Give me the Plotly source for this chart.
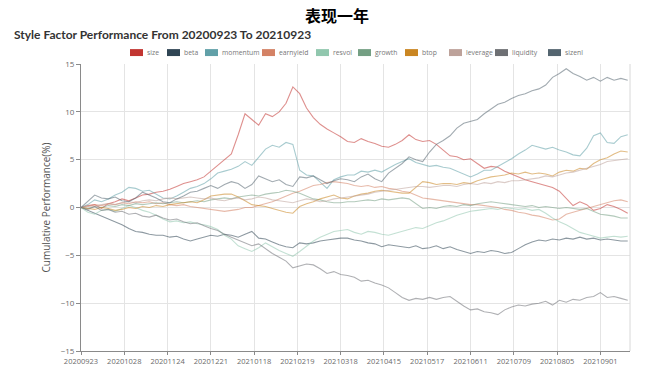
import plotly.graph_objects as go

# ---------------- data ----------------
SERIES_NAMES = ["size", "beta", "momentum", "earnyield", "resvol",
                "growth", "btop", "leverage", "liquidity", "sizenl"]
COLORS = ["#c23531", "#2f4554", "#61a0a8", "#d48265", "#91c7ae",
          "#749f83", "#ca8622", "#bda29a", "#6e7074", "#546570"]

TICK_LABELS = ["20200923", "20201028", "20201124", "20201221", "20210118",
               "20210219", "20210318", "20210415", "20210517", "20210611",
               "20210709", "20210805", "20210901"]
TICK_EVERY = 19          # trading days between labelled dates
N_DAYS = 241             # trading days on the axis
STEP = 3                 # one sampled value every 3 trading days

size = [0.0, 0.2, 0.3, -0.1, 0.4, 0.6, 0.9, 0.7, 1.0, 1.3,
        1.4, 1.6, 1.7, 1.9, 2.2, 2.5, 2.7, 2.9, 3.2, 3.8,
        4.5, 5.0, 5.6, 7.6, 9.8, 9.2, 8.6, 9.8, 9.5, 10.0,
        10.9, 12.6, 11.9, 10.4, 9.4, 8.7, 8.2, 7.8, 7.4, 6.9,
        6.8, 7.2, 6.9, 6.7, 6.4, 6.3, 6.6, 7.0, 7.6, 7.1,
        6.9, 7.0, 6.6, 6.0, 5.4, 5.3, 5.0, 5.1, 4.6, 4.1,
        4.3, 4.2, 3.8, 3.5, 3.2, 2.9, 2.7, 2.5, 2.3, 2.1,
        1.7, 0.9, 0.2, 0.6, 0.3, -0.3, -0.1, 0.3, 0.1, -0.2, -0.6]
beta = [0.0, -0.3, -0.6, -0.9, -1.2, -1.5, -1.8, -2.2, -2.5, -2.6,
        -2.8, -2.9, -2.9, -3.1, -3.0, -3.3, -3.5, -3.3, -3.1, -2.9,
        -3.0, -2.8, -2.9, -3.1, -2.8, -2.5, -3.2, -3.3, -3.6, -3.9,
        -4.1, -4.2, -3.7, -3.8, -3.7, -3.5, -3.4, -3.3, -3.2, -3.2,
        -3.4, -3.5, -3.7, -3.8, -4.1, -3.9, -4.0, -4.1, -4.2, -4.0,
        -4.3, -4.2, -4.0, -4.3, -4.1, -4.4, -4.6, -4.8, -4.6, -4.7,
        -4.5, -4.6, -4.8, -4.7, -4.3, -3.9, -3.6, -3.4, -3.5, -3.3,
        -3.4, -3.2, -3.3, -3.1, -3.3, -3.2, -3.4, -3.3, -3.4, -3.5, -3.5]
momentum = [0.0, 0.3, 0.8, 0.6, 0.9, 1.3, 1.6, 2.1, 2.0, 1.7,
            1.8, 1.4, 1.0, 0.9, 1.2, 1.6, 2.0, 2.2, 2.5, 3.0,
            3.6, 3.8, 4.0, 4.3, 4.8, 4.4, 5.2, 6.1, 6.5, 6.3,
            6.8, 6.6, 3.9, 3.4, 3.3, 2.6, 2.0, 2.9, 3.2, 3.4,
            3.4, 3.8, 3.7, 3.9, 3.7, 4.1, 4.5, 4.8, 5.1, 4.7,
            4.5, 4.3, 4.4, 4.2, 4.1, 3.8, 3.5, 3.2, 3.5, 3.9,
            3.9, 4.3, 4.7, 5.1, 5.6, 6.0, 6.5, 6.3, 6.1, 6.3,
            6.0, 5.8, 5.5, 5.4, 6.2, 7.5, 7.8, 6.8, 6.7, 7.4, 7.6]
earnyield = [0.0, 0.1, 0.3, 0.2, 0.4, 0.3, 0.5, 0.4, 0.6, 0.5,
             0.6, 0.4, 0.5, 0.3, 0.2, 0.3, 0.1, 0.0, -0.1, -0.2,
             -0.3, -0.4, -0.3, -0.2, 0.0, 0.0, 0.2, 0.4, 0.6, 0.9,
             1.2, 1.5, 1.7, 2.0, 2.3, 2.4, 2.6, 2.7, 2.6, 2.5,
             2.3, 2.2, 2.3, 2.1, 2.2, 2.0, 1.9, 1.7, 1.6, 1.3,
             1.0, 0.9, 0.8, 0.7, 0.6, 0.5, 0.4, 0.3, 0.3, 0.2,
             0.1, 0.0, -0.2, -0.3, -0.5, -0.6, -0.8, -0.9, -1.1, -1.3,
             -1.2, -0.7, -0.5, -0.3, -0.1, 0.1, 0.3, 0.5, 0.7, 0.8, 0.6]
resvol = [0.0, -0.5, -0.7, -0.3, -0.2, -0.4, -0.1, 0.2, 0.0, -0.3,
          -0.5, -0.8, -1.2, -1.5, -1.4, -1.6, -1.5, -1.7, -1.8, -2.0,
          -2.3, -2.9, -3.3, -4.0, -4.3, -4.6, -4.2, -3.7, -4.1, -4.5,
          -4.8, -5.1, -4.6, -4.0, -3.5, -3.1, -2.8, -2.5, -2.4, -2.3,
          -2.6, -2.8, -2.5, -2.6, -2.8, -2.9, -2.7, -2.5, -2.3, -2.1,
          -2.2, -1.9, -1.6, -1.4, -1.1, -0.8, -0.6, -0.4, -0.3, -0.2,
          -0.1, -0.2, 0.0, -0.1, -0.2, -0.1, -0.3, -0.2, -0.6, -1.1,
          -1.5, -1.8, -2.2, -2.6, -2.8, -3.0, -3.2, -3.1, -3.0, -3.1, -3.0]
growth = [0.0, -0.1, 0.1, 0.0, 0.2, 0.1, 0.3, 0.2, 0.4, 0.3,
          0.4, 0.5, 0.4, 0.5, 0.6, 0.5, 0.6, 0.7, 0.6, 0.8,
          0.9, 1.0, 0.9, 1.1, 1.2, 1.3, 1.2, 1.4, 1.5, 1.6,
          1.8, 1.7, 1.5, 1.2, 0.9, 0.8, 0.6, 0.5, 0.5, 0.6,
          0.6, 0.7, 0.8, 0.7, 0.9, 0.8, 0.9, 1.0, 0.9, 0.4,
          -0.1, 0.0, -0.1, 0.1, 0.2, 0.1, 0.3, 0.2, 0.4, 0.5,
          0.6, 0.5, 0.4, 0.3, 0.2, 0.1, 0.2, 0.0, 0.1, 0.0,
          -0.1, 0.0, -0.1, -0.2, -0.1, -0.4, -0.7, -0.8, -0.9, -1.1, -1.1]
btop = [0.0, -0.1, -0.2, 0.0, -0.1, -0.3, -0.2, 0.0, -0.1, 0.1,
        0.0, 0.2, 0.1, 0.3, 0.4, 0.5, 0.6, 0.5, 0.8, 1.2,
        1.3, 1.4, 1.4, 1.1, 0.7, 0.3, 0.2, 0.1, -0.1, -0.3,
        -0.5, -0.6, 0.1, 0.4, 0.6, 0.9, 1.1, 1.3, 1.0, 0.9,
        1.2, 1.4, 1.5, 1.7, 1.8, 1.7, 1.6, 1.5, 1.5, 2.1,
        2.7, 2.6, 2.4, 2.5, 2.5, 2.4, 2.6, 2.5, 2.8, 3.0,
        3.2, 3.3, 3.4, 3.6, 3.5, 3.7, 3.5, 3.6, 3.5, 3.3,
        3.7, 3.9, 3.8, 4.1, 4.0, 4.6, 5.0, 5.2, 5.6, 5.9, 5.8]
leverage = [0.0, 0.2, 0.1, 0.3, 0.4, 0.3, 0.5, 0.6, 0.5, 0.7,
            0.8, 0.7, 0.9, 1.0, 0.9, 1.0, 1.1, 1.0, 0.9, 1.0,
            0.8, 0.7, 0.9, 1.0, 0.8, 0.9, 1.1, 1.0, 0.8, 0.7,
            0.6, 0.5, 0.7, 0.9, 0.8, 0.6, 0.7, 0.9, 1.0, 1.1,
            1.2, 1.3, 1.4, 1.6, 1.7, 1.8, 1.9, 2.0, 2.1, 2.2,
            2.2, 2.1, 2.2, 2.3, 2.3, 2.2, 2.4, 2.5, 2.4, 2.6,
            2.5, 2.7, 2.6, 2.8, 2.8, 2.9, 3.0, 3.1, 3.3, 3.2,
            3.4, 3.6, 3.7, 3.9, 4.1, 4.3, 4.5, 4.8, 4.9, 5.0, 5.1]
liquidity = [0.0, -0.2, 0.1, -0.3, -0.2, -0.5, -0.4, -0.7, -0.6, -0.9,
             -1.0, -0.8, -1.1, -1.3, -1.2, -1.5, -1.7, -1.6, -1.9, -2.2,
             -2.4, -2.8, -3.1, -3.4, -3.7, -4.0, -3.8, -4.3, -4.8, -5.2,
             -5.6, -6.3, -6.1, -5.9, -6.0, -6.4, -6.9, -6.7, -7.0, -7.1,
             -7.3, -7.7, -7.6, -7.9, -8.1, -8.4, -8.9, -9.4, -9.7, -9.5,
             -9.6, -9.4, -9.6, -9.4, -9.3, -9.8, -10.3, -10.7, -10.6, -10.9,
             -11.0, -11.2, -10.7, -10.4, -10.2, -10.3, -10.1, -10.0, -9.8, -10.2,
             -9.7, -9.9, -9.6, -9.7, -9.4, -9.3, -8.9, -9.4, -9.3, -9.5, -9.7]
sizenl = [0.0, 0.6, 1.3, 1.0, 0.9, 1.1, 0.7, 0.6, 1.0, 1.6,
          1.3, 1.0, 0.6, 0.5, 0.9, 1.2, 1.6, 1.7, 2.0, 2.3,
          2.0, 2.4, 2.7, 2.5, 2.0, 2.4, 3.3, 3.0, 2.7, 2.9,
          2.4, 2.2, 3.2, 3.1, 3.3, 2.9, 2.5, 2.8, 3.0, 2.9,
          2.7, 3.2, 3.5, 3.0, 2.7, 3.6, 4.1, 4.6, 5.3, 5.0,
          4.8, 5.8, 6.6, 7.0, 7.5, 8.3, 8.8, 9.0, 9.2, 9.8,
          10.3, 10.8, 11.0, 11.4, 11.7, 11.9, 12.2, 12.4, 12.8, 13.6,
          14.0, 14.5, 14.0, 13.7, 13.3, 13.6, 13.2, 13.6, 13.3, 13.5, 13.3]

SERIES = [size, beta, momentum, earnyield, resvol,
          growth, btop, leverage, liquidity, sizenl]

# ---------------- figure ----------------
W, H = 654, 378
PL, PR, PT, PB = 81, 630, 64, 353   # plot area in pixels


def px_x(px):
    return (px - PL) / (PR - PL)


def px_y(py):
    return (PB - py) / (PB - PT)


x_idx = [i * STEP for i in range(len(size))]

fig = go.Figure()
for name, color, vals in zip(SERIES_NAMES, COLORS, SERIES):
    fig.add_trace(go.Scatter(
        x=x_idx, y=vals, name=name, mode="lines",
        line=dict(color=color, width=1.1), opacity=0.55,
        showlegend=False, hoverinfo="skip"))

FONT = "Open Sans, Noto Sans, sans-serif"
axis_col = "#8a8a8a"
grid_col = "#e4e4e4"
lab_col = "#6a6a6a"

fig.update_layout(
    width=W, height=H,
    margin=dict(l=PL, r=W - PR, t=PT, b=H - PB, pad=0),
    paper_bgcolor="white", plot_bgcolor="white",
    font=dict(family=FONT, color=lab_col),
    showlegend=False,
    xaxis=dict(
        range=[0, N_DAYS], tickmode="array",
        tickvals=[i * TICK_EVERY for i in range(len(TICK_LABELS))],
        ticktext=TICK_LABELS,
        showgrid=True, gridcolor=grid_col, gridwidth=1,
        showline=True, linecolor=axis_col, linewidth=1,
        ticks="outside", ticklen=3, tickcolor=axis_col,
        tickfont=dict(size=7.5, color=lab_col),
        zeroline=False, fixedrange=True),
    yaxis=dict(
        range=[-15, 15], tickmode="array",
        tickvals=[-15, -10, -5, 0, 5, 10, 15],
        showgrid=True, gridcolor=grid_col, gridwidth=1,
        showline=True, linecolor=axis_col, linewidth=1,
        ticks="outside", ticklen=4, tickcolor=axis_col,
        tickfont=dict(size=8, color=lab_col),
        zeroline=False, fixedrange=True,
        title=dict(text="Cumulative Performance(%)",
                   font=dict(size=10, color="#555555"), standoff=8)),
)

# right border of the plotting area
fig.add_shape(type="line", xref="paper", yref="paper",
              x0=1, x1=1, y0=0, y1=1, line=dict(color="#d8d8d8", width=1))

annotations = [
    dict(text="<b>表现一年</b>", xref="paper", yref="paper",
         x=px_x(337), y=px_y(15), xanchor="center", yanchor="middle",
         showarrow=False,
         font=dict(family="Noto Sans CJK SC", size=16, color="#000000")),
    dict(text="<b>Style Factor Performance From 20200923 To 20210923</b>",
         xref="paper", yref="paper", x=px_x(12), y=px_y(34),
         xanchor="left", yanchor="middle", showarrow=False,
         font=dict(family="Lato", size=12, color="#333333")),
]

# custom legend (rectangular swatches like the reference)
LEG_X = [130, 167, 205, 262, 316, 358, 405, 449, 495, 548]
LEG_Y = 52.5
for name, color, lx in zip(SERIES_NAMES, COLORS, LEG_X):
    fig.add_shape(type="rect", xref="paper", yref="paper",
                  x0=px_x(lx), x1=px_x(lx + 13),
                  y0=px_y(LEG_Y + 3.5), y1=px_y(LEG_Y - 3.5),
                  fillcolor=color, line=dict(width=0))
    annotations.append(dict(
        text=name, xref="paper", yref="paper",
        x=px_x(lx + 15), y=px_y(LEG_Y), xanchor="left", yanchor="middle",
        showarrow=False, font=dict(family=FONT, size=6.8, color="#777777")))

fig.update_layout(annotations=annotations)

fig.write_html("out.html",
               config={"displayModeBar": False, "staticPlot": True},
               post_script="document.body.style.margin='0';"
                           "document.body.style.overflow='hidden';")
